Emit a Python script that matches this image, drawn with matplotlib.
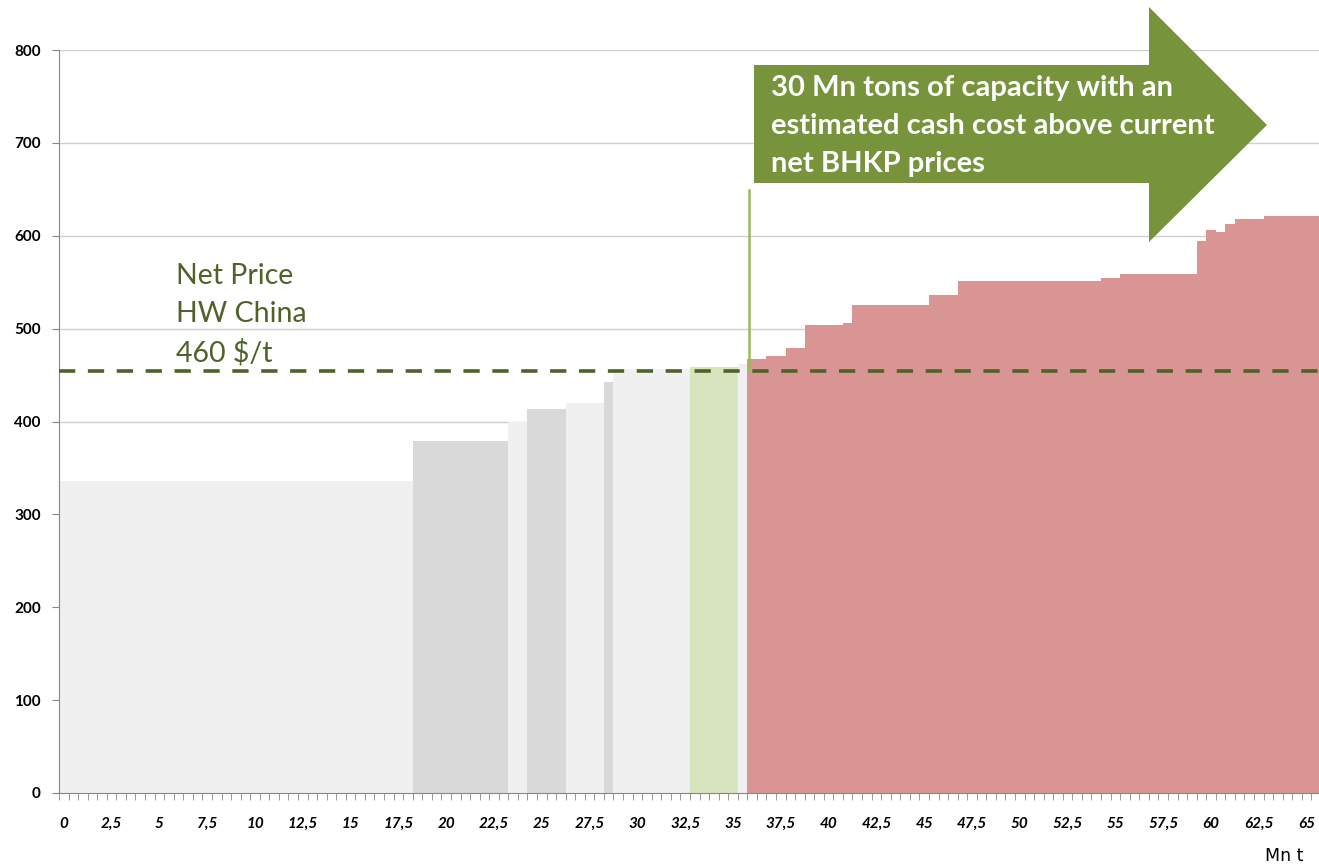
import numpy as np
import matplotlib.pyplot as plt
from matplotlib.patches import Polygon

# Datos de la curva de costos (capacidad Mn t, costo $/t)
capacidad_gris = [18.5, 5, 1, 2, 2, 0.5, 4, 2.5, 0.5]
costo_gris = [336, 379, 400, 413, 420, 443, 456, 458.5, 462]
color_gris = ['#f0f0f0', '#d9d9d9', '#f0f0f0', '#d9d9d9', '#f0f0f0',
              '#d9d9d9', '#f0f0f0', '#d7e4bd', '#f0f0f0']

capacidad_roja = [1, 1, 1, 2, 0.5, 4, 1.5, 7.5, 1, 4, 0.5, 0.5, 0.5, 0.5, 1.5, 3]
costo_rojo = [467, 471, 479, 504, 506, 525, 536, 551, 554, 559, 594, 606, 604,
              613, 618, 621]

precio_neto = 454
inicio = -0.25
yticks = np.arange(0, 801, 100)
xticks = np.arange(0, 65.1, 2.5)
xlabels = [('%g' % v).replace('.', ',') for v in xticks]

W, H = 1319, 867
fig = plt.figure(figsize=(W / 100, H / 100), dpi=100)
ax = fig.add_axes([59 / W, 74 / H, 1260 / W, 743 / H])

# Barras
anchos = capacidad_gris + capacidad_roja
alturas = costo_gris + costo_rojo
colores = color_gris + ['#d99594'] * len(capacidad_roja)
izq = inicio + np.concatenate([[0], np.cumsum(anchos)[:-1]])
ax.bar(izq, alturas, width=anchos, align='edge', color=colores,
       linewidth=0, zorder=2)

# Linea de precio neto
ax.axhline(precio_neto, color='#4f6228', lw=2.6, ls=(0, (4.5, 3.5)), zorder=4)
x_corte = inicio + sum(capacidad_gris) + 0.08
ax.plot([x_corte, x_corte], [precio_neto, 649], color='#9bbb59', lw=1.8,
        zorder=3, clip_on=False)

ax.text(5.87, 515, 'Net Price\nHW China\n460 $/t', color='#4f6228',
        fontsize=20.5, family='Lato', linespacing=1.55, va='center', ha='left')

# Ejes
ax.set_xlim(inicio, 65.65)
ax.set_ylim(0, 800)
ax.set_yticks(yticks)
ax.set_yticklabels([str(v) for v in yticks], fontsize=11, fontweight='bold',
                   family='Lato')
ax.set_xticks(xticks)
ax.set_xticklabels(xlabels, fontsize=11, fontweight='bold', style='italic',
                   family='Lato')
ax.set_xticks(np.arange(inicio, 65.7, 0.5), minor=True)
ax.tick_params(axis='x', which='major', length=0, pad=17)
ax.tick_params(axis='x', which='minor', length=5, color='#868686')
ax.tick_params(axis='y', length=5, color='#868686', pad=8)
ax.grid(axis='y', color='#d0d0d0', lw=1, zorder=0)
for lado in ['top', 'right']:
    ax.spines[lado].set_visible(False)
for lado in ['left', 'bottom']:
    ax.spines[lado].set_color('#868686')
ax.set_axisbelow(True)

fig.text(1284 / W, 1 - 856 / H, 'Mn t', fontsize=12.5, ha='center', va='center',
         family=['Liberation Sans Narrow', 'DejaVu Sans'])

# Flecha verde
px = [(754, 65), (1149, 65), (1149, 7), (1267, 125), (1149, 242),
      (1149, 183), (754, 183)]
flecha = Polygon([(x / W, 1 - y / H) for x, y in px], closed=True,
                 transform=fig.transFigure, facecolor='#77933c',
                 edgecolor='none', zorder=5)
fig.patches.append(flecha)
fig.text(771 / W, 1 - 126 / H,
         '30 Mn tons of capacity with an\nestimated cash cost above current\nnet BHKP prices',
         color='white', fontsize=21, fontweight='bold', family='Lato',
         linespacing=1.55, va='center', ha='left', zorder=6)

fig.savefig('out.png', dpi=100)
